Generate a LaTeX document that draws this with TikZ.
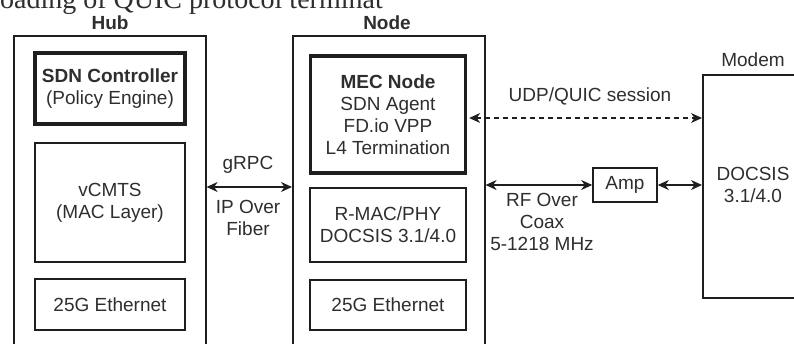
\documentclass[tikz,border=0pt]{standalone}
\usepackage{fontspec}
\setmainfont{Liberation Sans}
\newfontfamily\capfont{Liberation Serif}
\usetikzlibrary{arrows.meta}
\definecolor{ink}{HTML}{1E1E1E}
\definecolor{txt}{HTML}{2E2E2E}
\tikzset{
  base/.style={font=\fontsize{19}{22}\selectfont, text=txt, align=center},
  outerbox/.style={base, draw=ink, line width=1.6pt, anchor=north west, inner sep=0pt},
  thinbox/.style={base, draw=ink, line width=1.6pt, inner sep=0pt},
  thickbox/.style={base, draw=ink, line width=3.4pt, inner sep=0pt},
  lbl/.style={base},
  arr/.style={draw=ink, line width=1.1pt, {Stealth[length=11pt,width=10pt,inset=3.5pt]}-{Stealth[length=11pt,width=10pt,inset=3.5pt]}},
}
\begin{document}
\begin{tikzpicture}[x=1pt,y=-1pt]
\useasboundingbox (0,0) rectangle (794,343);
% cut caption line at top
\node[font=\capfont\fontsize{28}{30}\selectfont, text=txt, anchor=base west, inner sep=0pt] (cap) at (0,8) {oading of QUIC protocol terminat};
% outer boxes
\node[outerbox, minimum width=192pt, minimum height=330pt] (hub) at (13,35) {};
\node[outerbox, minimum width=192pt, minimum height=330pt] (nodeo) at (292,35) {};
\node[lbl, font=\bfseries\fontsize{19}{22}\selectfont] (hublbl) at (110,23) {Hub};
\node[lbl, font=\bfseries\fontsize{19}{22}\selectfont] (nodelbl) at (387,23) {Node};
% hub contents
\node[thickbox, minimum width=150pt, minimum height=71pt] (sdn) at (110,88.5) {\textbf{SDN Controller}\\(Policy Engine)};
\node[thinbox, minimum width=150pt, minimum height=119pt] (vcmts) at (110,202.5) {vCMTS\\(MAC Layer)};
\node[thinbox, minimum width=150pt, minimum height=51pt] (eth1) at (110,304.5) {25G Ethernet};
% node contents
\node[thickbox, minimum width=155pt, minimum height=117pt] (mec) at (388,114.5) {\textbf{MEC Node}\\SDN Agent\\FD.io VPP\\L4 Termination};
\node[thinbox, minimum width=156pt, minimum height=74pt] (rmac) at (388,225) {R-MAC/PHY\\DOCSIS 3.1/4.0};
\node[thinbox, minimum width=156pt, minimum height=50pt] (eth2) at (388,305) {25G Ethernet};
% modem
\node[outerbox, minimum width=120pt, minimum height=223pt] (modem) at (702,74) {};
\node[lbl] (modemlbl) at (753,60) {Modem};
\node[lbl] (docsis) at (753,185) {DOCSIS\\3.1/4.0};
% amp
\node[thinbox, minimum width=64pt, minimum height=34pt] (amp) at (625,185) {Amp};
% connectors
\draw[arr] (hub.east |- 0,187) -- (nodeo.west |- 0,187);
\node[lbl] (grpc) at (248,165) {gRPC};
\node[lbl] (ipof) at (248,218) {IP Over\\Fiber};
\draw[arr, dashed, dash pattern=on 5pt off 4pt] (mec.east |- 0,118) ++(2,0) -- (modem.west |- 0,118);
\node[lbl] (udp) at (590,96) {UDP/QUIC session};
\draw[arr] (nodeo.east |- 0,185) -- (amp.west);
\draw[arr] (amp.east) -- (modem.west |- 0,185);
\node[lbl] (rf) at (542,221.5) {RF Over\\Coax\\5-1218 MHz};
\end{tikzpicture}
\end{document}
